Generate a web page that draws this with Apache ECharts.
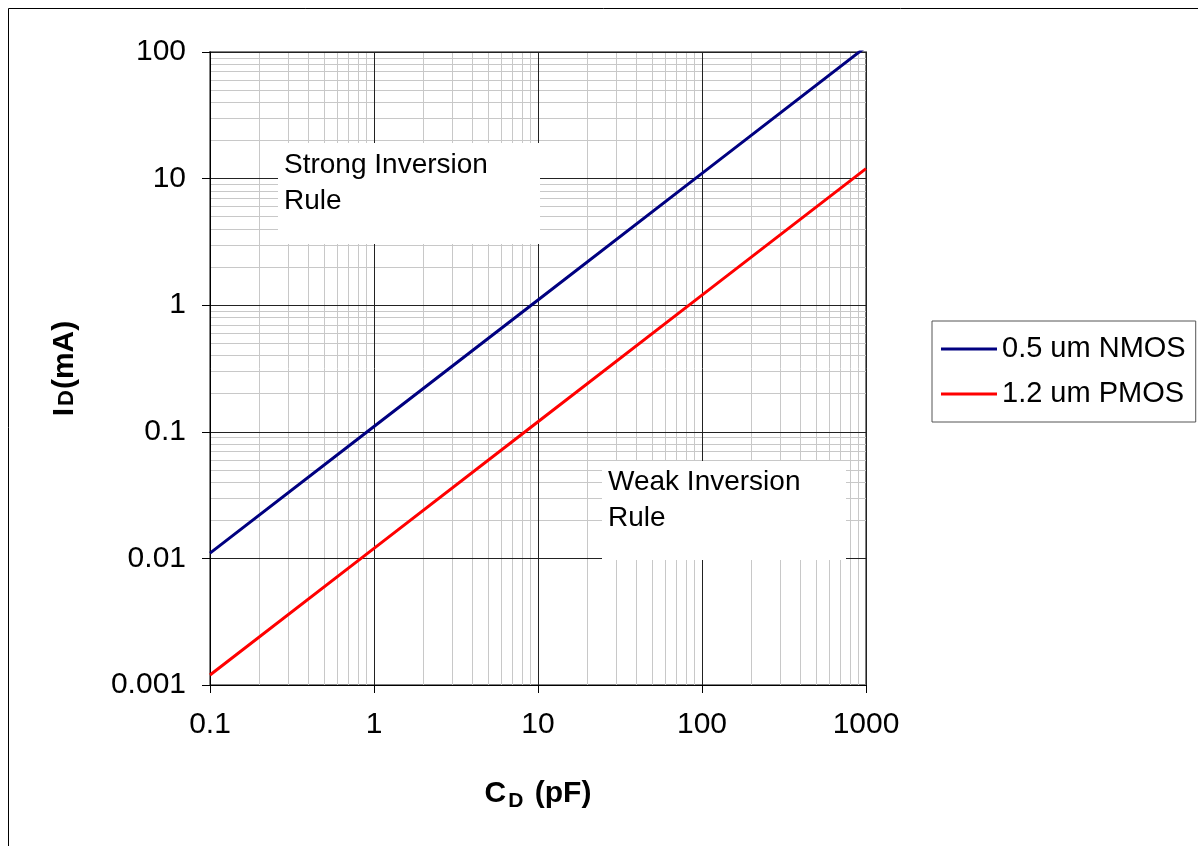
<!DOCTYPE html>
<html>
<head>
<meta charset="utf-8">
<script src="https://cdn.jsdelivr.net/npm/echarts@6/dist/echarts.min.js"></script>
<style>
  html, body { margin: 0; padding: 0; background: #fff; }
  #chart { width: 1198px; height: 846px; }
</style>
</head>
<body>
<div id="chart"></div>
<script>
// data
const capPF = [0.1, 1, 10, 100, 1000]
const nmosMA = [0.011, 0.11, 1.1, 11, 110]
const pmosMA = [0.0012, 0.012, 0.12, 1.2, 12]
const seriesNames = ['0.5 um NMOS', '1.2 um PMOS']
const seriesColors = ['#000080', '#ff0000']

// log grid: decades and the 2..9 lines inside them
const xDecades = [0.1, 1, 10, 100]
const yDecades = [0.001, 0.01, 0.1, 1, 10]
const minorSteps = [2, 3, 4, 5, 6, 7, 8, 9]

const FONT = '"Liberation Sans", Arial, sans-serif'

const fmt = v => String(+Number(v).toPrecision(6))

const minorLines = []
xDecades.forEach(d => minorSteps.forEach(m => minorLines.push({ xAxis: +(d * m).toPrecision(6) })))
yDecades.forEach(d => minorSteps.forEach(m => minorLines.push({ yAxis: +(d * m).toPrecision(6) })))

const chart = echarts.init(document.getElementById('chart'), null, { renderer: 'canvas' })

const option = {
  animation: false,
  backgroundColor: '#fff',
  grid: {
    left: 210,
    top: 52,
    right: 332,
    bottom: 161,
    show: true,
    borderColor: '#808080',
    borderWidth: 2,
    backgroundColor: 'transparent'
  },
  legend: {
    data: seriesNames.map((n, i) => ({ name: n, icon: 'rect', itemStyle: { color: seriesColors[i] } })),
    orient: 'vertical',
    left: 932,
    top: 321,
    itemWidth: 56,
    itemHeight: 3,
    itemGap: 13,
    padding: [12, 10, 12, 9],
    borderColor: '#555',
    borderWidth: 1,
    backgroundColor: '#fff',
    textStyle: { fontFamily: FONT, fontSize: 29, color: '#000', lineHeight: 32 }
  },
  xAxis: {
    type: 'log',
    logBase: 10,
    min: 0.1,
    max: 1000,
    z: 2,
    name: '{b|C}{s|D}{b| (pF)}',
    nameLocation: 'middle',
    nameGap: 92,
    nameTextStyle: {
      rich: {
        b: { fontFamily: FONT, fontSize: 30, fontWeight: 'bold', color: '#000', lineHeight: 34 },
        s: { fontFamily: FONT, fontSize: 21, fontWeight: 'bold', color: '#000', lineHeight: 34, padding: [14, 3, 0, 2] }
      }
    },
    axisLine: { show: true, lineStyle: { color: '#000', width: 1 } },
    axisTick: { show: true, length: 8, lineStyle: { color: '#000' } },
    axisLabel: { fontFamily: FONT, fontSize: 30, color: '#000', margin: 25, formatter: fmt },
    splitLine: { show: true, lineStyle: { color: '#222', width: 1 } },
    minorTick: { show: false },
    minorSplitLine: { show: false }
  },
  yAxis: {
    type: 'log',
    logBase: 10,
    min: 0.001,
    max: 100,
    z: 2,
    name: '{b|I}{s|D}{b|(mA)}',
    nameLocation: 'middle',
    nameRotate: 90,
    nameGap: 130,
    nameTextStyle: {
      rich: {
        b: { fontFamily: FONT, fontSize: 30, fontWeight: 'bold', color: '#000' },
        s: { fontFamily: FONT, fontSize: 22, fontWeight: 'bold', color: '#000', padding: [3, 1, 0, 2] }
      }
    },
    axisLine: { show: true, lineStyle: { color: '#000', width: 1 } },
    axisTick: { show: true, length: 8, lineStyle: { color: '#000' } },
    axisLabel: { fontFamily: FONT, fontSize: 30, color: '#000', margin: 24, formatter: fmt },
    splitLine: { show: true, lineStyle: { color: '#222', width: 1 } }
  },
  series: [
    {
      name: 'minor-grid',
      type: 'line',
      data: [],
      z: 1,
      silent: true,
      markLine: {
        z: 1,
        silent: true,
        symbol: 'none',
        label: { show: false },
        lineStyle: { color: '#c8c8c8', width: 1, type: 'solid' },
        emphasis: { disabled: true },
        data: minorLines
      }
    },
    {
      name: seriesNames[0],
      type: 'line',
      z: 3,
      symbol: 'none',
      clip: true,
      lineStyle: { color: seriesColors[0], width: 3 },
      itemStyle: { color: seriesColors[0] },
      data: capPF.map((x, i) => [x, nmosMA[i]])
    },
    {
      name: seriesNames[1],
      type: 'line',
      z: 3,
      symbol: 'none',
      clip: true,
      lineStyle: { color: seriesColors[1], width: 3 },
      itemStyle: { color: seriesColors[1] },
      data: capPF.map((x, i) => [x, pmosMA[i]])
    }
  ],
  graphic: [
    // outer frame
    { type: 'line', z: 10, shape: { x1: 8.5, y1: 8.5, x2: 8.5, y2: 846 }, style: { stroke: '#000', lineWidth: 1 } },
    { type: 'line', z: 10, shape: { x1: 8.5, y1: 8.5, x2: 1198, y2: 8.5 }, style: { stroke: '#000', lineWidth: 1 } },
    // text boxes
    {
      type: 'group', left: 278, top: 143, z: 4,
      children: [
        { type: 'rect', z: 4, shape: { x: 0, y: 0, width: 262, height: 101 }, style: { fill: '#fff' } },
        { type: 'text', z: 5, left: 6, top: 4, style: { text: 'Strong Inversion\nRule', font: '28px ' + FONT, fill: '#000', lineHeight: 36 } }
      ]
    },
    {
      type: 'group', left: 602, top: 461, z: 4,
      children: [
        { type: 'rect', z: 4, shape: { x: 0, y: 0, width: 244, height: 99 }, style: { fill: '#fff' } },
        { type: 'text', z: 5, left: 6, top: 3, style: { text: 'Weak Inversion\nRule', font: '28px ' + FONT, fill: '#000', lineHeight: 36 } }
      ]
    }
  ]
}

chart.setOption(option)
</script>
</body>
</html>
